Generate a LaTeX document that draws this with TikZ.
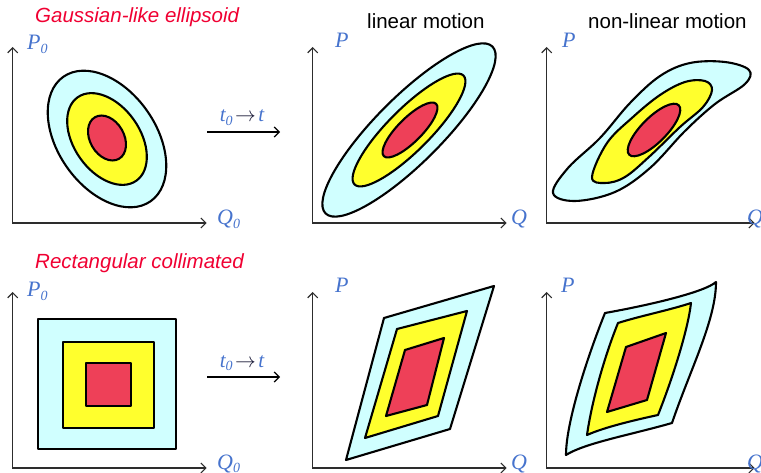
\documentclass[tikz,border=0pt]{standalone}
\usepackage{fontspec}
\setmainfont{Liberation Serif}
\setsansfont{Liberation Sans}
\usetikzlibrary{arrows.meta}

\definecolor{haloc}{RGB}{208,255,255}
\definecolor{corec}{RGB}{255,255,45}
\definecolor{kernc}{RGB}{238,64,88}
\definecolor{titlec}{RGB}{240,0,50}
\definecolor{labc}{RGB}{70,115,205}
\definecolor{axisc}{RGB}{45,45,45}
\definecolor{arrc}{RGB}{25,25,55}

\newcommand{\lowsub}[1]{\raisebox{-0.35ex}{\fontsize{14}{14}\selectfont #1}}

\tikzset{
  outerband/.style={draw=black, line width=2.1pt, line join=round, fill=haloc},
  midband/.style={draw=black, line width=2.1pt, line join=round, fill=corec},
  innercore/.style={draw=black, line width=2.1pt, line join=round, fill=kernc},
  axis/.style={draw=axisc, line width=1.2pt,
    arrows={Straight Barb[length=5pt,width=10pt]-Straight Barb[length=5pt,width=10pt]}},
  timearrow/.style={draw=black, line width=1.2pt,
    arrows={-Straight Barb[length=5pt,width=10pt]}},
  titletext/.style={font=\sffamily\itshape\fontsize{20.5}{24}\selectfont, text=titlec, inner sep=0pt},
  headtext/.style={font=\sffamily\fontsize{20.5}{24}\selectfont, text=black, inner sep=0pt},
  lbl/.style={font=\itshape\fontsize{22}{24}\selectfont, text=labc, inner sep=0pt}
}

\begin{document}
\begin{tikzpicture}[x=1pt,y=-1pt]
\useasboundingbox (0,0) rectangle (761,473);

% Axes of the six panels
\foreach \ox/\oy/\len/\nm in {12.7/223/194/ga, 312.7/223/194/gb, 546.7/223/208/gc,
                               12.7/468/194/ra, 312.7/468/194/rb, 546.7/468/208/rc} {
    \coordinate (\nm-o) at (\ox,\oy);
    \coordinate (\nm-y) at (\ox,\oy-176);
    \coordinate (\nm-x) at (\ox+\len,\oy);
    \draw[axis] (\nm-y) -- (\nm-o) -- (\nm-x);
}

% Headings
\node[titletext, anchor=base west] (title-g) at (35,23) {Gaussian-like ellipsoid};
\node[titletext, anchor=base west] (title-r) at (35,269) {Rectangular collimated};
\node[headtext, anchor=base west] (head-lin) at (367,29) {linear motion};
\node[headtext, anchor=base west] (head-non) at (588,29) {non-linear motion};

% Axis labels
\node[lbl, anchor=base west] (ga-p) at (27,50) {P\lowsub{0}};
\node[lbl, anchor=base west] (ga-q) at (217,225) {Q\lowsub{0}};
\node[lbl, anchor=base west] (gb-p) at (335,48) {P};
\node[lbl, anchor=base west] (gb-q) at (511,225) {Q};
\node[lbl, anchor=base west] (gc-p) at (562,48) {P};
\node[lbl, anchor=base west] (gc-q) at (747,225) {Q};
\node[lbl, anchor=base west] (ra-p) at (27,297) {P\lowsub{0}};
\node[lbl, anchor=base west] (ra-q) at (217,469) {Q\lowsub{0}};
\node[lbl, anchor=base west] (rb-p) at (335,293) {P};
\node[lbl, anchor=base west] (rb-q) at (511,469) {Q};
\node[lbl, anchor=base west] (rc-p) at (561,293) {P};
\node[lbl, anchor=base west] (rc-q) at (747,469) {Q};

% Time evolution arrows
\foreach \ay/\nm in {132/g, 377/r} {
    \coordinate (t\nm-a) at (207,\ay);
    \coordinate (t\nm-b) at (280,\ay);
    \draw[timearrow] (t\nm-a) -- (t\nm-b);
    \node[lbl, font=\itshape\fontsize{21}{22}\selectfont, anchor=base] (t\nm-lab) at (242,\ay-10)
        {t\lowsub{0}\kern2.5pt{\color{arrc}$\rightarrow$}\kern2.5pt t};
}

% Gaussian: initial ellipses
\draw[outerband, rotate around={-55:(107,139)}] (107,139) ellipse [x radius=76, y radius=49];
\draw[midband, rotate around={-55:(107,139)}] (107,139) ellipse [x radius=51, y radius=33];
\draw[innercore, rotate around={-60:(107,138)}] (107,138) ellipse [x radius=24, y radius=17];

% Gaussian: linear motion
\draw[outerband, rotate around={45:(409,130)}] (409,130) ellipse [x radius=118, y radius=33];
\draw[midband, rotate around={45:(409,130)}] (409,130) ellipse [x radius=77, y radius=21];
\draw[innercore, rotate around={45:(410,130)}] (410,130) ellipse [x radius=37, y radius=12];

% Gaussian: non-linear motion
\draw[outerband] plot[smooth cycle, tension=0.6] coordinates {(553,193) (575,201) (615,192)
    (650,168) (685,131) (715,104) (745,84) (749,70) (725,62) (690,63) (660,76) (630,103)
    (600,138) (568,168)};
\draw[midband] plot[smooth cycle, tension=0.6] coordinates {(592,177) (605,183) (625,177)
    (650,156) (680,127) (703,107) (712,90) (705,81) (685,82) (660,95) (633,117) (607,143)};
\draw[innercore, rotate around={45:(654,130)}] (654,130) ellipse [x radius=35, y radius=12.5];

% Rectangular: initial squares
\draw[outerband] (38,319) rectangle (176,449);
\draw[midband] (63,342) rectangle (154,428);
\draw[innercore] (86,363) rectangle (131,406);

% Rectangular: linear motion
\draw[outerband] (346,460) -- (450,429) -- (494,286) -- (384,318) -- cycle;
\draw[midband] (365,438) -- (438,416) -- (467,311) -- (397,329) -- cycle;
\draw[innercore] (386,416) -- (427,405) -- (444,338) -- (405,350) -- cycle;

% Rectangular: non-linear motion
\draw[outerband] (566,455) .. controls (585,443) and (630,435) .. (672,423)
    .. controls (690,370) and (716,320) .. (716,282)
    .. controls (705,292) and (650,305) .. (605,313)
    .. controls (590,350) and (566,420) .. cycle;
\draw[midband] (587,435) .. controls (605,427) and (635,420) .. (658,415)
    .. controls (672,380) and (688,330) .. (691,303)
    .. controls (670,310) and (640,316) .. (618,323)
    .. controls (605,355) and (592,400) .. cycle;
\draw[innercore] (607,412) -- (647,400) -- (666,333) -- (626,347) -- cycle;

\end{tikzpicture}
\end{document}
